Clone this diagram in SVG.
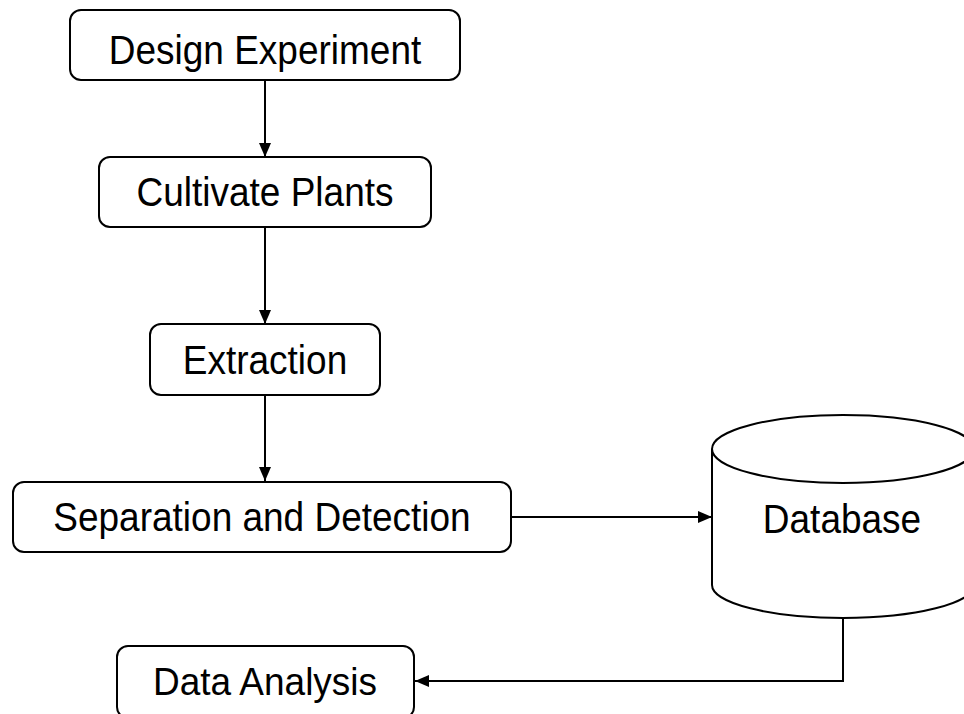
<svg xmlns="http://www.w3.org/2000/svg" width="964" height="714" viewBox="0 0 964 714">
  <defs>
    <style>
      .box { fill: #ffffff; stroke: #000000; stroke-width: 2; }
      .lbl { font-family: "Liberation Sans", Arial, sans-serif; font-size: 37px; fill: #000000; text-anchor: middle; }
      .edge { fill: none; stroke: #000000; stroke-width: 2; }
    </style>
    <marker id="arrow" viewBox="0 0 14 12" refX="14" refY="6" markerWidth="14" markerHeight="12" markerUnits="userSpaceOnUse" orient="auto">
      <path d="M0,0 L14,6 L0,12 Z" fill="#000000"/>
    </marker>
  </defs>

  <g id="connectors">
    <line class="edge" x1="265" y1="80" x2="265" y2="157" marker-end="url(#arrow)"/>
    <line class="edge" x1="265" y1="227" x2="265" y2="324" marker-end="url(#arrow)"/>
    <line class="edge" x1="265" y1="395" x2="265" y2="481" marker-end="url(#arrow)"/>
    <line class="edge" x1="511" y1="517" x2="712" y2="517" marker-end="url(#arrow)"/>
    <polyline class="edge" points="843,618 843,681 415,681" marker-end="url(#arrow)"/>
  </g>

  <g id="design-experiment">
    <rect class="box" x="70" y="10" width="390" height="70" rx="11"/>
    <text class="lbl" transform="translate(265,64) scale(1,1.12)">Design Experiment</text>
  </g>

  <g id="cultivate-plants">
    <rect class="box" x="99" y="157" width="332" height="70" rx="11"/>
    <text class="lbl" transform="translate(265,206) scale(1,1.1)">Cultivate Plants</text>
  </g>

  <g id="extraction">
    <rect class="box" x="150" y="324" width="230" height="71" rx="11"/>
    <text class="lbl" transform="translate(265,374) scale(1,1.1)">Extraction</text>
  </g>

  <g id="separation-detection">
    <rect class="box" x="13" y="482" width="498" height="70" rx="11"/>
    <text class="lbl" transform="translate(262,531) scale(1,1.1)">Separation and Detection</text>
  </g>

  <g id="database">
    <path class="box" d="M712,449 L712,585 A131,33 0 0 0 974,585 L974,449"/>
    <ellipse class="box" cx="843" cy="449" rx="131" ry="34"/>
    <text class="lbl" transform="translate(842,533) scale(1,1.12)">Database</text>
  </g>

  <g id="data-analysis">
    <rect class="box" x="117" y="646" width="297" height="72" rx="11"/>
    <text class="lbl" transform="translate(265,695) scale(1,1.05)">Data Analysis</text>
  </g>
</svg>
